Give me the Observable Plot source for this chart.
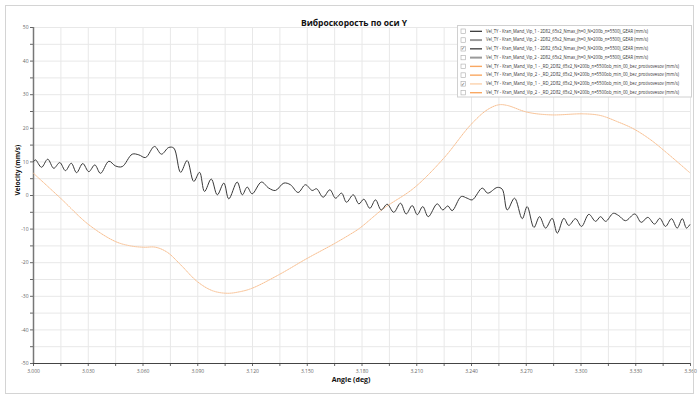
<!DOCTYPE html>
<html><head><meta charset="utf-8">
<script src="https://cdn.jsdelivr.net/npm/d3@7"></script>
<script src="https://cdn.jsdelivr.net/npm/@observablehq/plot@0.6"></script>
<style>
body{margin:0;background:#fff;}
#wrap{position:relative;width:700px;height:397px;}
</style></head><body><div id="wrap"></div>
<script>
const titleText = "Виброскорость по оси Y";
const xLabel = "Angle (deg)";
const yLabel = "Velocity (mm/s)";

const angleBlack = [3.0000,3.0011,3.0044,3.0078,3.0111,3.0144,3.0175,3.0207,3.0236,3.0270,
3.0303,3.0336,3.0367,3.0413,3.0449,3.0486,3.0541,3.0577,3.0614,3.0663,
3.0701,3.0741,3.0769,3.0806,3.0842,3.0878,3.0910,3.0937,3.0974,3.1007,
3.1043,3.1070,3.1116,3.1144,3.1171,3.1198,3.1249,3.1289,3.1326,3.1372,
3.1408,3.1450,3.1490,3.1527,3.1551,3.1587,3.1624,3.1655,3.1688,3.1715,
3.1752,3.1783,3.1810,3.1843,3.1874,3.1905,3.1938,3.1974,3.2011,3.2042,
3.2075,3.2103,3.2133,3.2163,3.2212,3.2243,3.2270,3.2294,3.2344,3.2376,
3.2404,3.2459,3.2489,3.2541,3.2568,3.2596,3.2636,3.2678,3.2705,3.2742,
3.2773,3.2806,3.2842,3.2870,3.2906,3.2933,3.2970,3.3003,3.3043,3.3080,
3.3107,3.3135,3.3177,3.3207,3.3244,3.3295,3.3330,3.3366,3.3403,3.3432,
3.3463,3.3496,3.3527,3.3555,3.3578,3.3596];
const velBlack = [10.1,10.6,8.4,10.8,8.1,9.8,7.4,9.6,6.8,9.5,
7.1,9.1,6.6,10.2,8.8,8.6,12.3,12.1,11.3,14.6,
12.3,14.3,14.1,6.9,10.4,4.2,6.9,1.2,4.9,0.2,
3.7,-1.0,4.0,0.2,2.5,0.5,4.0,2.2,1.5,3.7,
3.2,0.9,3.2,1.5,2.0,-0.5,1.7,-0.8,0.7,-2.0,
0.2,-2.5,-1.1,-3.8,-1.3,-4.3,-2.6,-5.0,-2.3,-5.5,
-3.0,-5.7,-3.3,-6.3,-2.5,-4.3,-3.1,-4.5,-0.3,-0.8,
-1.3,2.2,0.7,2.4,1.9,-4.3,-0.8,-6.9,-3.3,-9.5,
-6.3,-9.7,-6.8,-11.2,-6.8,-8.9,-6.9,-9.2,-5.6,-7.7,
-6.3,-7.7,-5.3,-6.0,-7.5,-5.5,-8.0,-6.5,-8.5,-6.8,
-9.2,-6.9,-9.7,-6.9,-9.7,-8.7];

const angleOrange = [3.0000,3.0148,3.0303,3.0449,3.0532,3.0604,3.0669,3.0733,3.0806,3.0897,
3.0979,3.1061,3.1134,3.1198,3.1344,3.1500,3.1646,3.1737,3.1788,3.1920,
3.2084,3.2248,3.2395,3.2486,3.2550,3.2596,3.2705,3.2833,3.3015,3.3107,
3.3198,3.3289,3.3381,3.3472,3.3596];
const velOrange = [6.6,-0.8,-8.7,-13.7,-15.0,-15.4,-15.4,-16.9,-20.6,-25.6,
-28.3,-29.1,-28.6,-27.6,-23.6,-18.7,-14.4,-11.5,-9.7,-3.8,
2.2,11.1,21.0,25.5,27.0,26.8,24.8,24.0,24.3,23.8,
22.0,19.8,16.6,12.6,6.8];

const xLabelTicks = [3.000,3.030,3.060,3.090,3.120,3.150,3.180,3.210,3.240,3.270,3.300,3.330,3.360];
const xGridTicks = [3.000,3.015,3.030,3.045,3.060,3.075,3.090,3.105,3.120,3.135,3.150,3.165,3.180,3.195,3.210,3.225,3.240,3.255,3.270,3.285,3.300,3.315,3.330,3.345,3.360];
const yLabelTicks = [-50,-40,-30,-20,-10,0,10,20,30,40,50];
const yGridTicks = [-50,-45,-40,-35,-30,-25,-20,-15,-10,-5,0,5,10,15,20,25,30,35,40,45,50];

const legendLabels = [
"Vel_TY - Kran_Mand_Vip_1 - 2D82_65x2_Nmax_(h=0_N=200b_n=5500)_GEAR (mm/s)",
"Vel_TY - Kran_Mand_Vip_2 - 2D82_65x2_Nmax_(h=0_N=200b_n=5500)_GEAR (mm/s)",
"Vel_TY - Kran_Mand_Vip_1 - 2D82_65x2_Nmax_(h=0_N=200b_n=5500)_GEAR (mm/s)",
"Vel_TY - Kran_Mand_Vip_2 - 2D82_65x2_Nmax_(h=0_N=200b_n=5500)_GEAR (mm/s)",
"Vel_TY - Kran_Mand_Vip_1 - _RD_2D82_65x2_N=200b_n=5500ob_min_00_bez_protivovesov (mm/s)",
"Vel_TY - Kran_Mand_Vip_2 - _RD_2D82_65x2_N=200b_n=5500ob_min_00_bez_protivovesov (mm/s)",
"Vel_TY - Kran_Mand_Vip_1 - _RD_2D82_65x2_N=200b_n=5500ob_min_00_bez_protivovesov (mm/s)",
"Vel_TY - Kran_Mand_Vip_2 - _RD_2D82_65x2_N=200b_n=5500ob_min_00_bez_protivovesov (mm/s)"];
const legendChecked = [false,false,true,false,false,false,true,false];
const legendColors = ["#2b2b2b","#9a9a9a","#2b2b2b","#9a9a9a","#f9a862","#f9a862","#fcd2ad","#f9a862"];
const legendWidths = [1.2,2,1.2,2,1.4,1.4,1.4,1.4];

const black = angleBlack.map((a,i)=>({a, v: velBlack[i]}));
const orange = angleOrange.map((a,i)=>({a, v: velOrange[i]}));

const fmt = d3.format(".3f");
const plot = Plot.plot({
  width: 700, height: 397,
  marginLeft: 33, marginRight: 10, marginTop: 27, marginBottom: 34,
  style: {fontFamily: "'Open Sans', 'Noto Sans', sans-serif", fontSize: "5px", background: "#fff", color: "#555"},
  x: {domain: [3.0, 3.36]},
  y: {domain: [-50, 50]},
  marks: [
    Plot.gridX(xGridTicks, {stroke: "#e8e8e8", strokeOpacity: 1}),
    Plot.gridY(yGridTicks, {stroke: "#e8e8e8", strokeOpacity: 1}),
    Plot.axisX(xGridTicks, {tickSize: 3, tickPadding: 3, stroke: "#666", fill: "#666", tickFormat: d => xLabelTicks.some(t => Math.abs(t - d) < 1e-9) ? fmt(d) : "", label: null}),
    Plot.axisY(yGridTicks, {tickSize: 3, tickPadding: 2, stroke: "#666", fill: "#666", tickFormat: d => yLabelTicks.includes(d) ? String(d) : "", label: null}),
    Plot.ruleY([-50], {stroke: "#444", strokeWidth: 1}),
    Plot.ruleX([3.0], {stroke: "#777", strokeWidth: 1.5}),
    Plot.line(orange, {x: "a", y: "v", stroke: "#f9bf90", strokeWidth: 1, strokeDasharray: "1 1", curve: "catmull-rom"}),
    Plot.line(black, {x: "a", y: "v", stroke: "#383838", strokeWidth: 1, curve: "catmull-rom"}),
    Plot.text([titleText], {frameAnchor: "top", dy: -8, dx: -8, fontWeight: "bold", fontSize: 8.5, fill: "#111"}),
    Plot.text([xLabel], {frameAnchor: "bottom", dy: 18, dx: -11, fontWeight: "bold", fontSize: 7, fill: "#111"}),
    Plot.text([yLabel], {frameAnchor: "left", dx: -16, rotate: -90, fontWeight: "bold", fontSize: 6.5, fill: "#111"})
  ]
});
document.getElementById("wrap").appendChild(plot);

const svg = d3.select(plot);
svg.append("rect").attr("x", 5.5).attr("y", 5.5).attr("width", 688).attr("height", 388)
  .attr("fill", "none").attr("stroke", "#d4d4d4");

const lg = svg.append("g").attr("font-family", "'Open Sans', 'Noto Sans', sans-serif").attr("text-anchor", "start");
lg.append("rect").attr("x", 457.5).attr("y", 25.5).attr("width", 234).attr("height", 71.5)
  .attr("fill", "#fff").attr("stroke", "#d0d0d0");
legendLabels.forEach((t, i) => {
  const y = 31.3 + i * 8.77;
  lg.append("rect").attr("x", 461).attr("y", y - 2.3).attr("width", 4.5).attr("height", 4.5)
    .attr("fill", "#fff").attr("stroke", "#aaa").attr("stroke-width", 0.6);
  if (legendChecked[i]) {
    lg.append("text").attr("x", 463.3).attr("y", y + 0.3).attr("text-anchor", "middle")
      .attr("dominant-baseline", "middle").attr("font-size", 5).attr("fill", "#555").text("✓");
  }
  lg.append("line").attr("x1", 470).attr("x2", 482).attr("y1", y).attr("y2", y)
    .attr("stroke", legendColors[i]).attr("stroke-width", legendWidths[i]);
  lg.append("text").attr("x", 486).attr("y", y).attr("dominant-baseline", "middle")
    .attr("font-size", 4.8).attr("fill", "#333")
    .attr("textLength", t.length * 2.22).attr("lengthAdjust", "spacingAndGlyphs").text(t);
});
</script></body></html>
